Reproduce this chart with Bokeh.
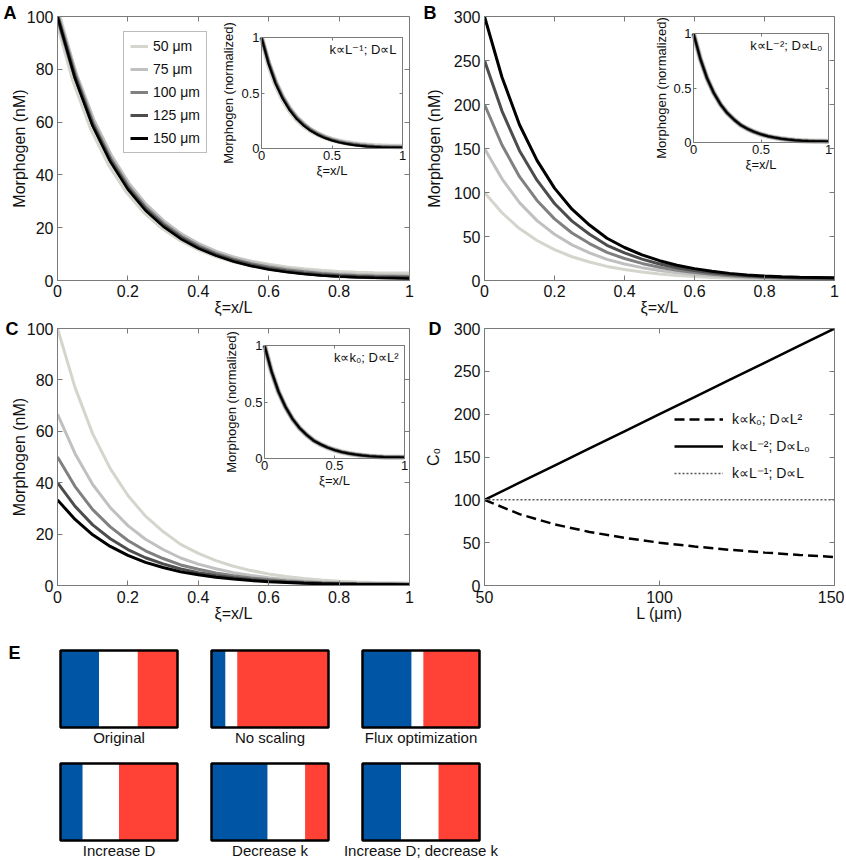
from bokeh.plotting import figure
from bokeh.models import (Range1d, LinearAxis, FixedTicker, NumeralTickFormatter,
                          Label, Legend, LegendItem, BasicTickFormatter)
from bokeh.layouts import column, row
from bokeh.embed import file_html
from bokeh.resources import INLINE
from bokeh.core.properties import value

FONT = "Liberation Sans"
AXC = "#7a7a7a"
TXT = "#111111"

# ---------------- data ----------------
xi = [0.00, 0.05, 0.10, 0.15, 0.20, 0.25, 0.30, 0.35, 0.40, 0.45, 0.50,
      0.55, 0.60, 0.65, 0.70, 0.75, 0.80, 0.85, 0.90, 0.95, 1.00]
size_labels = ["50 \u03bcm", "75 \u03bcm", "100 \u03bcm", "125 \u03bcm", "150 \u03bcm"]
curve_colors = ["#d5d5ce", "#c0c0c0", "#808080", "#4d4d4d", "#000000"]

# Panel A: k ~ L^-1, D ~ L
A_50 = [100, 76.0, 58.0, 44.5, 34.2, 26.4, 20.6, 16.1, 12.7, 10.0, 8.0, 6.4, 5.2, 4.2, 3.5, 2.9, 2.5, 2.2, 2.0, 1.9, 1.9]
A_75 = [100, 78.0, 60.5, 47.0, 36.4, 28.3, 22.1, 17.2, 13.4, 10.5, 8.2, 6.5, 5.1, 4.1, 3.3, 2.6, 2.1, 1.8, 1.6, 1.5, 1.4]
A_100 = [100, 77.5, 59.5, 46.0, 35.5, 27.5, 21.4, 16.6, 12.9, 10.0, 7.8, 6.1, 4.8, 3.8, 3.0, 2.4, 1.9, 1.6, 1.4, 1.3, 1.2]
A_125 = [100, 77.0, 59.0, 45.5, 35.0, 27.0, 21.0, 16.2, 12.5, 9.7, 7.5, 5.8, 4.5, 3.5, 2.7, 2.1, 1.7, 1.4, 1.2, 1.1, 1.0]
A_150 = [100, 76.5, 58.5, 45.0, 34.5, 26.5, 20.5, 15.8, 12.2, 9.4, 7.2, 5.5, 4.2, 3.2, 2.5, 1.9, 1.5, 1.2, 1.0, 0.9, 0.8]

# Panel B: k ~ L^-2, D ~ L0
B_50 = [100, 77, 59, 45.5, 35, 27, 21, 16, 12.5, 9.7, 7.5, 5.8, 4.5, 3.5, 2.7, 2.1, 1.7, 1.4, 1.2, 1.1, 1.0]
B_75 = [150, 115.5, 88.5, 68, 52.5, 40.5, 31.5, 24, 18.8, 14.6, 11.3, 8.7, 6.8, 5.3, 4.1, 3.2, 2.6, 2.1, 1.8, 1.7, 1.5]
B_100 = [200, 154, 118, 91, 70, 54, 42, 32, 25, 19.4, 15, 11.6, 9, 7, 5.4, 4.2, 3.4, 2.8, 2.4, 2.2, 2.0]
B_125 = [250, 192.5, 147.5, 114, 87.5, 67.5, 52.5, 40, 31.3, 24.3, 18.8, 14.5, 11.3, 8.8, 6.8, 5.3, 4.3, 3.5, 3.0, 2.8, 2.5]
B_150 = [300, 231, 177, 136.5, 105, 81, 63, 48, 37.5, 29.1, 22.5, 17.4, 13.5, 10.5, 8.1, 6.3, 5.1, 4.2, 3.6, 3.3, 3.0]

# Panel C: k ~ k0, D ~ L^2
C_50 = [100, 77, 59, 45.5, 35, 27, 21, 16, 12.5, 9.7, 7.5, 5.8, 4.5, 3.5, 2.7, 2.1, 1.7, 1.4, 1.2, 1.1, 1.0]
C_75 = [66.7, 51.3, 39.3, 30.3, 23.3, 18, 14, 10.7, 8.3, 6.5, 5, 3.9, 3, 2.3, 1.8, 1.4, 1.1, 0.93, 0.8, 0.73, 0.67]
C_100 = [50, 38.5, 29.5, 22.8, 17.5, 13.5, 10.5, 8, 6.3, 4.9, 3.8, 2.9, 2.3, 1.8, 1.4, 1.1, 0.85, 0.7, 0.6, 0.55, 0.5]
C_125 = [40, 30.8, 23.6, 18.2, 14, 10.8, 8.4, 6.4, 5, 3.9, 3, 2.3, 1.8, 1.4, 1.1, 0.84, 0.68, 0.56, 0.48, 0.44, 0.4]
C_150 = [33.3, 25.7, 19.7, 15.2, 11.7, 9, 7, 5.3, 4.2, 3.2, 2.5, 1.9, 1.5, 1.2, 0.9, 0.7, 0.57, 0.47, 0.4, 0.37, 0.33]

# Panel D: C0 vs L
L_um = [50, 60, 70, 80, 90, 100, 110, 120, 130, 140, 150]
C0_kk0_DL2 = [100, 83.3, 71.4, 62.5, 55.6, 50, 45.5, 41.7, 38.5, 35.7, 33.3]
C0_kL2_DL0 = [100, 120, 140, 160, 180, 200, 220, 240, 260, 280, 300]
C0_kL1_DL = [100, 100, 100, 100, 100, 100, 100, 100, 100, 100, 100]
D_labels = ["k\u221dk\u2080; D\u221dL\u00b2", "k\u221dL\u207b\u00b2; D\u221dL\u2080", "k\u221dL\u207b\u00b9; D\u221dL"]

# Panel E: flag stripe fractions
flag_labels = ["Original", "No scaling", "Flux optimization",
               "Increase D", "Decrease k", "Increase D; decrease k"]
blue_frac = [0.33, 0.12, 0.42, 0.19, 0.48, 0.33]
white_frac = [0.33, 0.10, 0.10, 0.31, 0.32, 0.32]
red_frac = [0.34, 0.78, 0.48, 0.50, 0.20, 0.35]
FLAG_BLUE = "#0055a4"
FLAG_RED = "#ff4136"

x_ticks = [0, 0.2, 0.4, 0.6, 0.8, 1]
inset_ticks = [0, 0.5, 1]

# line widths (style): light curves drawn wider so they form a halo when overlapping
A_widths = [8, 6, 4.5, 3.5, 2.5]
inset_widths = [5.5, 4.5, 3.5, 2.8, 2]

ROW1_BOTTOM = 321


# ---------------- helpers ----------------
def make_fig(xr, yr, fx0, fy0, fw, fh, gx0, gy0, gw, gh):
    p = figure(x_range=Range1d(*xr), y_range=Range1d(*yr),
               frame_width=fw, frame_height=fh,
               min_border_left=fx0 - gx0, min_border_right=gx0 + gw - (fx0 + fw),
               min_border_top=fy0 - gy0, min_border_bottom=gy0 + gh - (fy0 + fh),
               x_axis_type=None, y_axis_type=None,
               toolbar_location=None, output_backend="svg")
    p.outline_line_color = AXC
    p.background_fill_color = "white"
    p.border_fill_color = "white"
    return p


def style_axis(ax, fs, tick_in, label_fs, standoff, lab_standoff, show_labels=True):
    ax.major_tick_in = tick_in
    ax.major_tick_out = 0
    ax.minor_tick_line_color = None
    ax.axis_line_color = AXC
    ax.major_tick_line_color = AXC
    ax.major_label_text_font = FONT
    ax.major_label_text_font_size = fs
    ax.major_label_text_color = TXT if show_labels else None
    ax.major_label_standoff = standoff
    ax.axis_label_text_font = FONT
    ax.axis_label_text_font_style = "normal"
    ax.axis_label_text_font_size = label_fs
    ax.axis_label_text_color = TXT
    ax.axis_label_standoff = lab_standoff


def main_axes(p, xticks, yticks, xlabel, ylabel, xfmt, ylab_standoff, xtick_standoff=5):
    xr, yr = p.x_range, p.y_range
    b = LinearAxis(ticker=FixedTicker(ticks=xticks), formatter=xfmt, axis_label=xlabel)
    l = LinearAxis(ticker=FixedTicker(ticks=yticks), formatter=BasicTickFormatter(), axis_label=ylabel)
    t = LinearAxis(ticker=FixedTicker(ticks=xticks), fixed_location=yr.end)
    r = LinearAxis(ticker=FixedTicker(ticks=yticks), fixed_location=xr.end)
    style_axis(b, "16px", 5, "16px", xtick_standoff, -1)
    style_axis(l, "16px", 5, "16px", 4, ylab_standoff)
    style_axis(t, "16px", 5, "16px", 0, 0, show_labels=False)
    style_axis(r, "16px", 5, "16px", 0, 0, show_labels=False)
    p.add_layout(b, "below")
    p.add_layout(l, "left")
    p.add_layout(t, "above")
    p.add_layout(r, "right")


def add_inset(p, frame, box, curves, note, ylab_standoff=2):
    fx0, fy0, fw, fh = frame
    ix0, iy0, iw, ih = box
    xs = -(ix0 - fx0) / iw
    xe = 1 + (fx0 + fw - (ix0 + iw)) / iw
    ys = -((fy0 + fh) - (iy0 + ih)) / ih
    ye = 1 + (iy0 - fy0) / ih
    p.extra_x_ranges = {"ix": Range1d(xs, xe)}
    p.extra_y_ranges = {"iy": Range1d(ys, ye)}
    fmt = NumeralTickFormatter(format="0.[0]")
    common = dict(x_range_name="ix", y_range_name="iy", bounds=(0, 1),
                  ticker=FixedTicker(ticks=inset_ticks), formatter=fmt)
    b = LinearAxis(fixed_location=0, axis_label="\u03be=x/L", **common)
    l = LinearAxis(fixed_location=0, axis_label="Morphogen (normalized)", **common)
    t = LinearAxis(fixed_location=1, **common)
    r = LinearAxis(fixed_location=1, **common)
    style_axis(b, "13px", 3, "13px", 2, 0)
    style_axis(l, "13px", 3, "13px", 2, ylab_standoff)
    style_axis(t, "13px", 3, "13px", 0, 0, show_labels=False)
    style_axis(r, "13px", 3, "13px", 0, 0, show_labels=False)
    p.add_layout(b, "below")
    p.add_layout(l, "left")
    p.add_layout(t, "above")
    p.add_layout(r, "right")
    for vals, col, w in zip(curves, curve_colors, inset_widths):
        norm = [v / vals[0] for v in vals]
        p.line(xi, norm, x_range_name="ix", y_range_name="iy",
               line_color=col, line_width=w)
    p.add_layout(Label(x=1, y=1, x_range_name="ix", y_range_name="iy",
                       x_offset=-6, y_offset=-12, text=note,
                       text_align="right", text_baseline="middle",
                       text_font=FONT, text_font_size="13px",
                       text_color=TXT))


def panel_letter(p, txt, offset, standoff):
    # the figure's own title, pulled left of the frame and tucked into the top border
    p.title.text = txt
    p.title.align = "left"
    p.title.offset = offset
    p.title.standoff = standoff
    p.title.text_font = FONT
    p.title.text_font_size = "18px"
    p.title.text_font_style = "bold"
    p.title.text_color = "#000000"


xfmt01 = NumeralTickFormatter(format="0.[0]")

# ---------------- Panel A ----------------
fA = (57, 16, 352, 264)
pA = make_fig((0, 1), (0, 100), *fA, 0, 0, 420, ROW1_BOTTOM)
main_axes(pA, x_ticks, [0, 20, 40, 60, 80, 100], "\u03be=x/L", "Morphogen (nM)",
          xfmt01, -4, 4)
A_curves = [A_50, A_75, A_100, A_125, A_150]
legA_r = []
for vals, col, w in zip(A_curves, curve_colors, A_widths):
    pA.line(xi, vals, line_color=col, line_width=w)
    legA_r.append(pA.line(xi, vals, line_color=col, line_width=3, visible=False))
legA = Legend(items=[LegendItem(label=s, renderers=[r]) for s, r in zip(size_labels, legA_r)],
              location=(66, 127), margin=0, padding=6, spacing=7,
              glyph_width=18, glyph_height=16, label_height=16, label_standoff=5,
              label_text_font=FONT, label_text_font_size="14px", label_text_color=TXT,
              border_line_color=AXC, background_fill_color="white", background_fill_alpha=1,
              inactive_fill_alpha=0)
pA.add_layout(legA)
add_inset(pA, fA, (261, 37, 141, 111), A_curves, "k\u221dL\u207b\u00b9; D\u221dL")
panel_letter(pA, "A", -54, -12)

# ---------------- Panel B ----------------
fB = (484, 16, 350, 264)
pB = make_fig((0, 1), (0, 300), *fB, 420, 0, 424, ROW1_BOTTOM)
main_axes(pB, x_ticks, [0, 50, 100, 150, 200, 250, 300], "\u03be=x/L", "Morphogen (nM)",
          xfmt01, 8, 4)
B_curves = [B_50, B_75, B_100, B_125, B_150]
for vals, col in zip(B_curves, curve_colors):
    pB.line(xi, vals, line_color=col, line_width=3)
add_inset(pB, fB, (693, 33, 135, 109), B_curves, "k\u221dL\u207b\u00b2; D\u221dL\u2080", 1)
panel_letter(pB, "B", -61, -12)

# ---------------- Panel C ----------------
fC = (57, 328, 352, 257)
pC = make_fig((0, 1), (0, 100), *fC, 0, ROW1_BOTTOM, 420, 640 - ROW1_BOTTOM)
main_axes(pC, x_ticks, [0, 20, 40, 60, 80, 100], "\u03be=x/L", "Morphogen (nM)",
          xfmt01, -4)
C_curves = [C_50, C_75, C_100, C_125, C_150]
for vals, col in zip(C_curves, curve_colors):
    pC.line(xi, vals, line_color=col, line_width=3)
add_inset(pC, fC, (264, 345, 140, 113), C_curves, "k\u221dk\u2080; D\u221dL\u00b2")
panel_letter(pC, "C", -52, -21)

# ---------------- Panel D ----------------
fD = (484, 328, 350, 257)
pD = make_fig((50, 150), (0, 300), *fD, 420, ROW1_BOTTOM, 424, 640 - ROW1_BOTTOM)
main_axes(pD, [50, 100, 150], [0, 50, 100, 150, 200, 250, 300], "L (\u03bcm)",
          "C\u2080", BasicTickFormatter(), 9)
rD1 = pD.line(L_um, C0_kk0_DL2, line_color="black", line_width=2.5, line_dash="10 5")
rD2 = pD.line(L_um, C0_kL2_DL0, line_color="black", line_width=2.5)
rD3 = pD.line(L_um, C0_kL1_DL, line_color="#555555", line_width=1.5, line_dash="2 2")
legD = Legend(items=[LegendItem(label=s, renderers=[r]) for s, r in
                     zip(D_labels, [rD1, rD2, rD3])],
              location=(190, 102), margin=0, padding=0, spacing=7,
              glyph_width=49, glyph_height=20, label_height=20, label_standoff=9,
              label_text_font=FONT, label_text_font_size="14px", label_text_color=TXT,
              border_line_color=None, background_fill_alpha=0)
pD.add_layout(legD)
panel_letter(pD, "D", -56, -21)

# ---------------- Panel E ----------------
pE = figure(width=844, height=218, x_range=Range1d(0, 844), y_range=Range1d(858, 640),
            min_border=0, x_axis_type=None, y_axis_type=None,
            toolbar_location=None, output_backend="svg")
pE.outline_line_color = None
pE.background_fill_color = "white"
pE.border_fill_color = "white"

FX0, FY0, FPX, FPY, FW, FH = 60, 650, 151, 113, 117, 77
lefts, tops = [], []
for i in range(len(flag_labels)):
    lefts.append(FX0 + (i % 3) * FPX)
    tops.append(FY0 + (i // 3) * FPY)
b_r = [l + f * FW for l, f in zip(lefts, blue_frac)]
w_r = [b + f * FW for b, f in zip(b_r, white_frac)]
r_r = [w + f * FW for w, f in zip(w_r, red_frac)]
bots = [t + FH for t in tops]
pE.quad(left=lefts, right=b_r, top=tops, bottom=bots, fill_color=FLAG_BLUE, line_color=None)
pE.quad(left=b_r, right=w_r, top=tops, bottom=bots, fill_color="white", line_color=None)
pE.quad(left=w_r, right=r_r, top=tops, bottom=bots, fill_color=FLAG_RED, line_color=None)
pE.quad(left=lefts, right=r_r, top=tops, bottom=bots, fill_color=None,
        line_color="black", line_width=2.5)
pE.text(x=[l + FW / 2 for l in lefts], y=[b + 10 for b in bots], text=flag_labels,
        text_font=value(FONT), text_font_size="15px", text_align="center",
        text_baseline="middle", text_color=TXT)
pE.text(x=[8], y=[652], text=["E"], text_font=value(FONT), text_font_size="18px",
        text_font_style="bold", text_align="left", text_baseline="middle",
        text_color="#000000")

layout = column(row(pA, pB), row(pC, pD), pE)
open("out.html", "w", encoding="utf-8").write(file_html(layout, INLINE))
